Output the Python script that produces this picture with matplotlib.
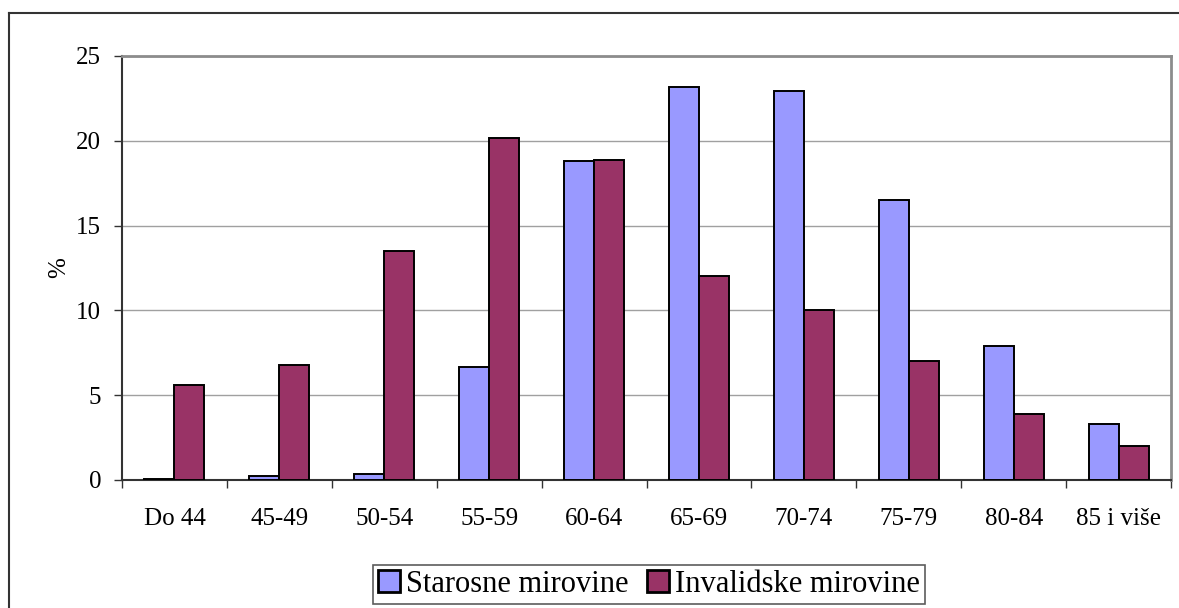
import matplotlib.pyplot as plt
import numpy as np
from matplotlib.lines import Line2D

categories = ['Do 44', '45-49', '50-54', '55-59', '60-64', '65-69',
              '70-74', '75-79', '80-84', '85 i više']
starosne = [0.05, 0.24, 0.35, 6.66, 18.82, 23.18, 22.93, 16.48, 7.92, 3.30]
invalidske = [5.6, 6.8, 13.5, 20.18, 18.88, 12.04, 10.04, 7.01, 3.87, 2.02]
series_names = ['Starosne mirovine', 'Invalidske mirovine']
yticks = [0, 5, 10, 15, 20, 25]

plt.rcParams['font.family'] = ['Liberation Serif', 'DejaVu Serif']

W, H = 1179, 608
fig = plt.figure(figsize=(W / 100, H / 100), dpi=100)

# outer chart border (left and top edges visible)
fig.add_artist(Line2D([9 / W, 9 / W], [0, 1 - 13 / H], color='#333333', lw=1.5))
fig.add_artist(Line2D([9 / W, 1], [1 - 13 / H, 1 - 13 / H], color='#333333', lw=1.5))

ax = fig.add_axes([122 / W, 128 / H, (1171 - 122) / W, (480 - 56) / H])

x = np.arange(len(categories))
w = 0.2857
ax.bar(x - w / 2, starosne, w, color='#9999FF', edgecolor='black', linewidth=1.4,
       label=series_names[0], zorder=3)
ax.bar(x + w / 2, invalidske, w, color='#993366', edgecolor='black', linewidth=1.4,
       label=series_names[1], zorder=3)

ax.set_xlim(-0.5, len(categories) - 0.5)
ax.set_ylim(0, 25)
ax.set_yticks(yticks)
ax.yaxis.grid(True, color='#a0a0a0', lw=1.0, zorder=0)
ax.tick_params(axis='y', labelsize=18, length=6, width=1, pad=9, color='#333333')

ax.set_xticks(x)
ax.set_xticklabels(categories)
ax.set_xticks(np.arange(-0.5, len(categories)), minor=True)
ax.tick_params(axis='x', which='major', length=0, labelsize=18, pad=20)
ax.tick_params(axis='x', which='minor', length=6, width=1, color='#333333')

ax.set_ylabel('%', fontsize=18, labelpad=4)

for side in ['top', 'right']:
    ax.spines[side].set_color('#8c8c8c')
    ax.spines[side].set_linewidth(2)
ax.spines['left'].set_color('#333333')
ax.spines['left'].set_linewidth(1.5)
ax.spines['bottom'].set_color('#333333')
ax.spines['bottom'].set_linewidth(1.5)

leg = fig.legend(loc='center', bbox_to_anchor=(649 / W, 1 - 584.5 / H), ncol=2,
                 fontsize=22, frameon=True, fancybox=False, handlelength=0.72,
                 handleheight=0.72, handletextpad=0.2, columnspacing=0.6,
                 borderpad=0.15, borderaxespad=0)
leg.get_frame().set_edgecolor('#333333')
leg.get_frame().set_linewidth(1.2)
for h in leg.legend_handles:
    h.set_linewidth(2)

fig.savefig('out.png', dpi=100)
